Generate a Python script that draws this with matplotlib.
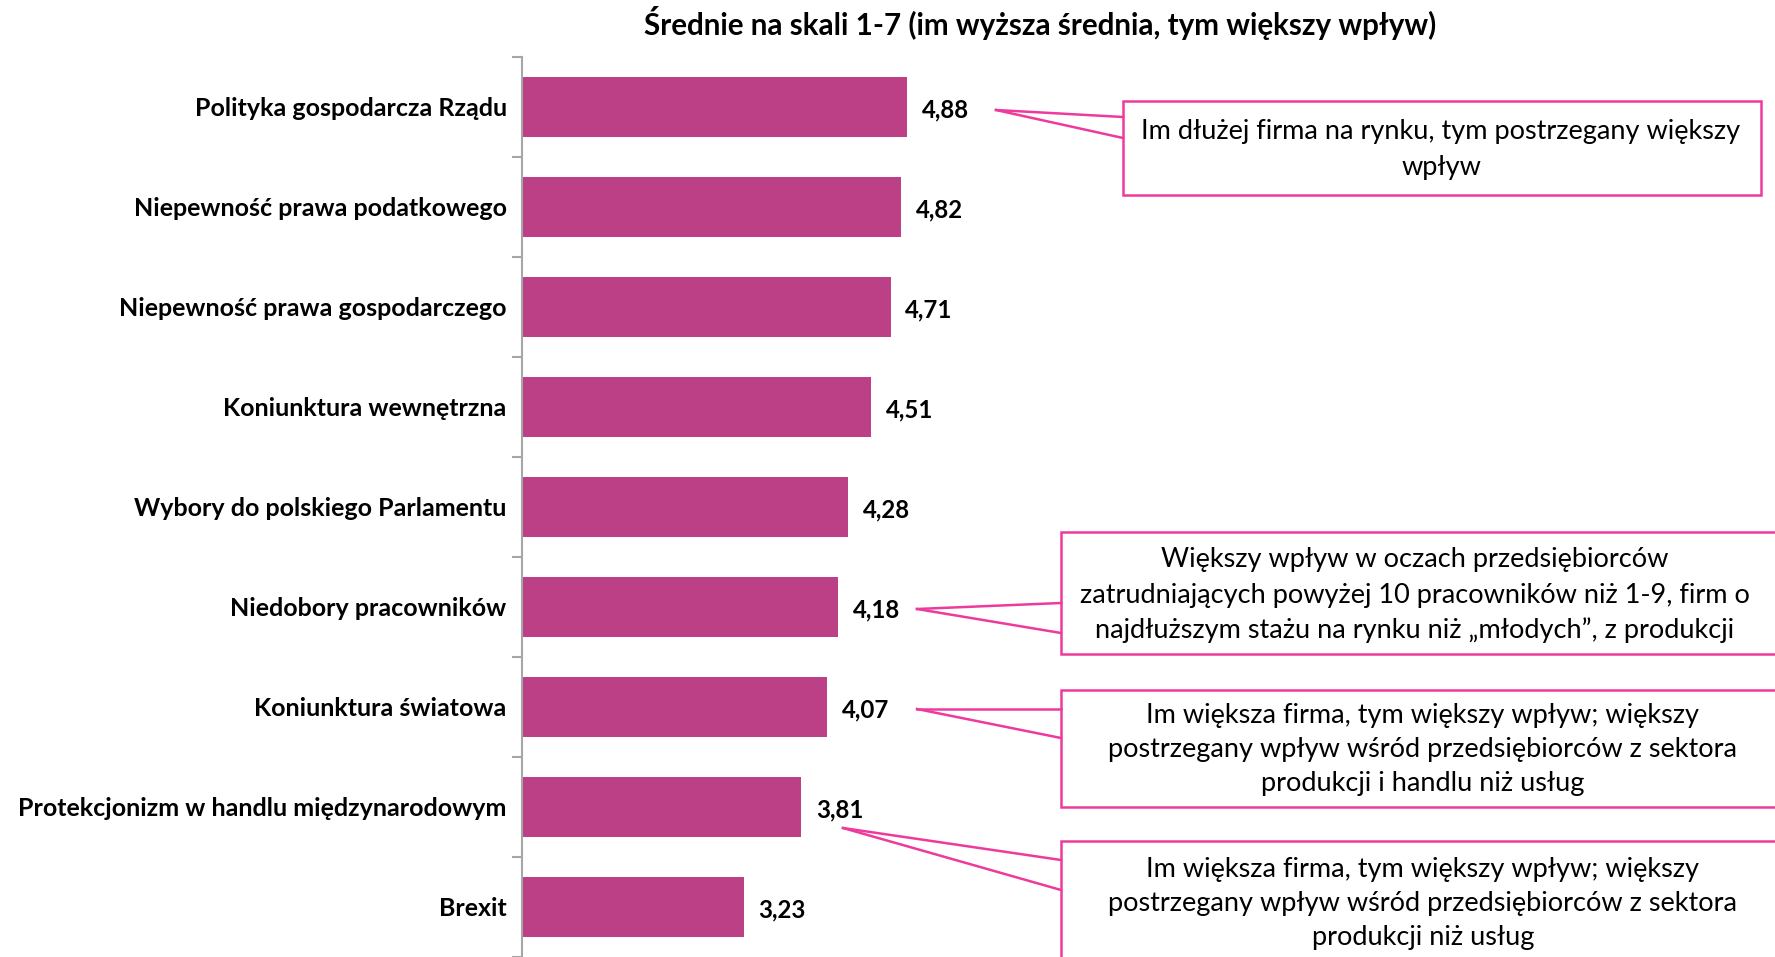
import matplotlib
matplotlib.use("Agg")
import matplotlib.pyplot as plt
from matplotlib.patches import Rectangle
import numpy as np

plt.rcParams['font.family'] = ['Lato', 'DejaVu Sans']

# data
categories = ["Polityka gospodarcza Rządu", "Niepewność prawa podatkowego",
              "Niepewność prawa gospodarczego", "Koniunktura wewnętrzna",
              "Wybory do polskiego Parlamentu", "Niedobory pracowników",
              "Koniunktura światowa", "Protekcjonizm w handlu międzynarodowym",
              "Brexit"]
values = [4.88, 4.82, 4.71, 4.51, 4.28, 4.18, 4.07, 3.81, 3.23]
title = "Średnie na skali 1-7 (im wyższa średnia, tym większy wpływ)"
notes = [
    "Im dłużej firma na rynku, tym postrzegany większy\nwpływ",
    "Większy wpływ w oczach przedsiębiorców\nzatrudniających powyżej 10 pracowników niż 1-9, firm o\nnajdłuższym stażu na rynku niż „młodych”, z produkcji",
    "Im większa firma, tym większy wpływ; większy\npostrzegany wpływ wśród przedsiębiorców z sektora\nprodukcji i handlu niż usług",
    "Im większa firma, tym większy wpływ; większy\npostrzegany wpływ wśród przedsiębiorców z sektora\nprodukcji niż usług",
]

W, H = 1775, 957
fig = plt.figure(figsize=(W / 100, H / 100), dpi=100)
bar_col = "#BC4086"
pink = "#EE3A9C"

ax = fig.add_axes([522 / W, 0, 596 / W, 900 / H])
y = np.arange(len(categories))
ax.barh(y, values, height=0.6, color=bar_col, left=0)
ax.set_xlim(1, 7)
ax.set_ylim(len(categories) - 0.5, -0.5)
for v, yy in zip(values, y):
    ax.text(v + 0.15, yy + 0.03, f"{v:.2f}".replace(".", ","), va="center", ha="left",
            fontsize=17.3, fontweight="bold")

for s in ["top", "right", "bottom"]:
    ax.spines[s].set_visible(False)
ax.spines["left"].set_color("#A6A6A6")
ax.spines["left"].set_linewidth(1.5)
ax.set_xticks([])
ax.set_yticks(y)
ax.set_yticklabels(categories, fontsize=18, fontweight="bold")
ax.tick_params(axis="y", which="major", length=0, pad=11)
ax.set_yticks(np.arange(-0.5, len(categories) + 0.5, 1), minor=True)
ax.tick_params(axis="y", which="minor", length=7, width=1.5, color="#A6A6A6")

fig.text(1040 / W, 1 - 23 / H, title, ha="center", va="center",
         fontsize=21.3, fontweight="bold")


# callouts in figure pixels (top-left origin)
def px(x, yv):
    return x / W, 1 - yv / H


def callout(box, tip, hits, text, lines_y, cx):
    x0, y0, x1, y1 = box
    fig.patches.append(Rectangle(px(x0, y1), (x1 - x0) / W, (y1 - y0) / H,
                                 transform=fig.transFigure, facecolor="white",
                                 edgecolor=pink, linewidth=1.8, zorder=3))
    for hy in hits:
        fig.lines.append(plt.Line2D([tip[0] / W, x0 / W],
                                    [1 - tip[1] / H, 1 - hy / H],
                                    transform=fig.transFigure, color=pink,
                                    linewidth=1.8, zorder=4))
    for t, ly in zip(text.split("\n"), lines_y):
        fig.text(cx / W, 1 - ly / H, t, ha="center", va="center",
                 fontsize=19.5, zorder=5)


callout((1123, 101, 1761, 195), (996, 110), (117, 138), notes[0], (132, 167), 1441)
callout((1061, 532, 1790, 654), (917, 609), (603, 633), notes[1], (560, 595, 630), 1415)
callout((1061, 690, 1790, 807), (917, 709), (709, 738), notes[2], (716, 750, 784), 1423)
callout((1061, 841, 1790, 1000), (843, 828), (860, 890), notes[3], (869, 903, 938), 1423)

fig.savefig("out.png", dpi=100)
